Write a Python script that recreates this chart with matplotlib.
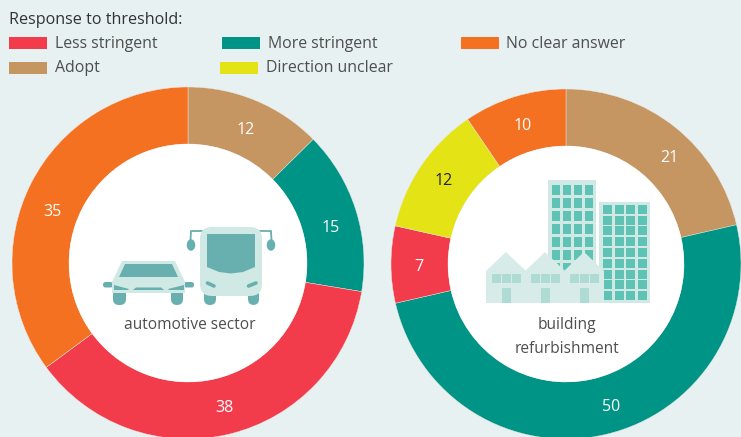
import matplotlib
matplotlib.use("Agg")
import matplotlib.pyplot as plt
from matplotlib.patches import Circle, Ellipse, FancyBboxPatch, Polygon, Rectangle

plt.rcParams['font.family'] = ['Open Sans', 'DejaVu Sans']

auto_labels = ["Adopt", "More stringent", "Less stringent", "No clear answer"]
auto_values = [12, 15, 38, 35]
auto_shares = [12.6, 15.0, 37.3, 35.1]
build_labels = ["Adopt", "More stringent", "Less stringent", "Direction unclear", "No clear answer"]
build_values = [21, 50, 7, 12, 10]
build_shares = [21.4, 50.0, 7.1, 12.0, 9.5]
legend_title = "Response to threshold:"
legend_items = ["Less stringent", "More stringent", "No clear answer", "Adopt", "Direction unclear"]

colors = {
  "Less stringent": "#F23C4C",
  "More stringent": "#009487",
  "No clear answer": "#F47122",
  "Adopt": "#C59562",
  "Direction unclear": "#E3E316",
}

BG = "#E7F1F2"
TXT = "#4E4E4E"
LIGHT = "#D0E9E4"
MID = "#68B0AF"
WIN = "#5EC2B5"

fig = plt.figure(figsize=(7.41, 4.37), dpi=100, facecolor=BG)
ax = fig.add_axes([0, 0, 1, 1])


# y axis is flipped (pixel coords), so counterclock=True runs clockwise on screen
def donut(labels, shares, center, radius, hole):
  ax.pie(shares, colors=[colors[l] for l in labels], center=center, radius=radius,
         startangle=270, counterclock=True,
         wedgeprops={"width": radius - hole, "linewidth": 0.3, "edgecolor": "#F0E8E0"})
  ax.add_patch(Circle(center, hole, color="white", lw=0, zorder=2))


donut(auto_labels, auto_shares, (188, 263), 176, 119)
donut(build_labels, build_shares, (566, 264), 175, 118)

ax.set_xlim(0, 741)
ax.set_ylim(437, 0)
ax.set_aspect("auto")
ax.axis("off")

# value labels
auto_pos = [(246, 130), (331, 228), (224, 408), (52, 212)]
for v, (x, y) in zip(auto_values, auto_pos):
  ax.text(x, y, str(v), color="white", fontsize=11.5, ha="center", va="center", zorder=5)
build_pos = [(669, 158), (611, 407), (419, 267), (444, 181), (523, 126)]
for l, v, (x, y) in zip(build_labels, build_values, build_pos):
  c = "#222222" if l == "Direction unclear" else "white"
  ax.text(x, y, str(v), color=c, fontsize=11.5, ha="center", va="center", zorder=5)

# legend
ax.text(9, 20, legend_title, color="#333333", fontsize=11.6, ha="left", va="center")
legend_spots = [(9, 37, 55), (222, 37, 268), (461, 37, 506), (9, 62, 55), (220, 62, 266)]
for name, (x, y, tx) in zip(legend_items, legend_spots):
  ax.add_patch(Rectangle((x, y), 38, 12, color=colors[name], lw=0))
  ax.text(tx, y + 6.5, name, color=TXT, fontsize=11.4, ha="left", va="center")


def poly(pts, c, z=3):
  ax.add_patch(Polygon(pts, closed=True, color=c, lw=0, zorder=z))


def box(x0, y0, x1, y1, c, z=3):
  ax.add_patch(Rectangle((x0, y0), x1 - x0, y1 - y0, color=c, lw=0, zorder=z))


def rbox(x0, y0, x1, y1, r, c, z=3):
  ax.add_patch(FancyBboxPatch((x0 + r, y0 + r), x1 - x0 - 2 * r, y1 - y0 - 2 * r,
                              boxstyle="round,pad=%s,rounding_size=%s" % (r, r), color=c, lw=0, zorder=z))


# car icon
for x0, x1 in [(113, 126), (171, 183)]:
  rbox(x0, 288, x1, 305, 6, MID)
for x0, x1 in [(103, 113), (184, 194)]:
  rbox(x0, 282, x1, 287.5, 2.5, MID)
poly([(122, 261), (175, 261), (185, 282), (185, 293), (112, 293), (112, 282)], LIGHT, 4)
poly([(125, 264), (172, 264), (178, 277), (119, 277)], MID, 5)
poly([(114, 285), (129, 289), (128, 290), (114, 290)], MID, 5)
poly([(184, 285), (168, 289), (169, 290), (184, 290)], MID, 5)
poly([(133, 290), (136, 287.5), (161, 287.5), (164, 290)], MID, 5)

# bus icon
for x0, x1 in [(204, 216), (248, 259)]:
  rbox(x0, 288, x1, 305, 6, MID)
rbox(200, 227, 262, 296, 12, LIGHT, 4)
poly([(207, 234), (255, 234), (255, 267), (243, 272), (231, 273.5), (219, 272), (207, 267)], MID, 5)
ax.plot([207.5, 214], [283, 286], color=MID, lw=2.6, solid_capstyle="round", zorder=5)
ax.plot([256, 248.5], [283, 286], color=MID, lw=2.6, solid_capstyle="round", zorder=5)
ax.plot([190.5, 191, 203], [240, 231, 231], color=MID, lw=1.3, zorder=3)
ax.plot([271.5, 271, 259], [240, 231, 231], color=MID, lw=1.3, zorder=3)
ax.add_patch(Ellipse((191, 245), 8.5, 11.5, color=MID, lw=0, zorder=3))
ax.add_patch(Ellipse((271, 245), 8.5, 11.5, color=MID, lw=0, zorder=3))

# tower icons
box(548, 180, 596, 272, LIGHT)
for x in [552, 563, 574, 585]:
  for y in [185, 198, 211, 224, 237, 250, 263]:
    box(x, y, x + 8, y + 10, WIN, 4)
box(599, 202, 650, 303, LIGHT)
for x in [603, 615, 626, 638]:
  for y in [205, 216, 226, 237, 248, 259, 270, 280, 291]:
    box(x, y, x + 9, y + 9, WIN, 4)

# row of houses
for dx in [0, 39, 78]:
  poly([(486 + dx, 303), (486 + dx, 271), (506 + dx, 252), (526 + dx, 271), (526 + dx, 303)], "#D7ECE8", 5)
  for wx in [492, 502, 512]:
    box(wx + dx, 274, wx + 9 + dx, 283, "#AEDCD4", 6)
  box(502 + dx, 288, 511 + dx, 303, "#AEDCD4", 6)

# centre captions
ax.text(189.5, 325, "automotive sector", color=TXT, fontsize=11.2, ha="center", va="center", zorder=6)
ax.text(567, 325, "building", color=TXT, fontsize=11.2, ha="center", va="center", zorder=6)
ax.text(567, 349, "refurbishment", color=TXT, fontsize=11.2, ha="center", va="center", zorder=6)

fig.savefig("out.png", dpi=100, facecolor=BG)
